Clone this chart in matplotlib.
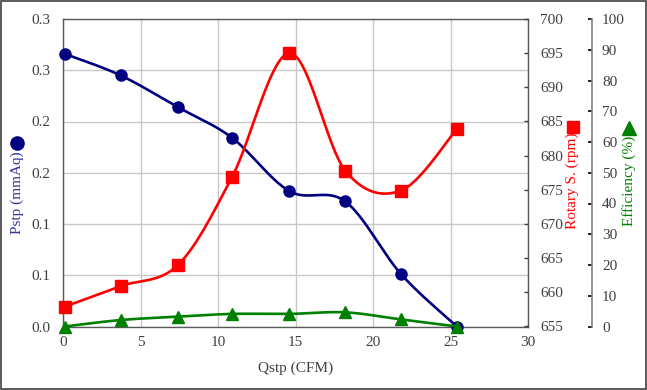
import numpy as np
import matplotlib
matplotlib.use("Agg")
import matplotlib.pyplot as plt
from matplotlib.lines import Line2D
from matplotlib.patches import Rectangle

# data
qstp = [0.1, 3.7, 7.4, 10.9, 14.6, 18.2, 21.8, 25.4]
pstp = [0.266, 0.245, 0.214, 0.184, 0.132, 0.122, 0.051, 0.0]
rotary = [657.9, 660.9, 664.0, 676.9, 695.0, 677.8, 674.9, 683.9]
efficiency = [0.0, 2.1, 3.2, 4.1, 4.1, 4.6, 2.3, 0.0]

x_ticks = [0, 5, 10, 15, 20, 25, 30]
p_ticks = [0.0, 0.05, 0.10, 0.15, 0.20, 0.25, 0.30]
p_tick_labels = ["0.0", "0.1", "0.1", "0.2", "0.2", "0.3", "0.3"]
r_ticks = [655, 660, 665, 670, 675, 680, 685, 690, 695, 700]
e_ticks = [0, 10, 20, 30, 40, 50, 60, 70, 80, 90, 100]

NAVY = "#000080"
RED = "#ff0000"
GREEN = "#008000"
TXT = "#404040"

plt.rcParams["font.family"] = ["Liberation Serif", "DejaVu Sans"]
plt.rcParams["font.size"] = 11

W, H = 647, 390
AX_W, AX_H = 465.0, 307.5


def smooth(x, y, xlim, ylim, n=40):
    # excel-like smoothed line: cubic bezier through points, done in pixel space
    px = (np.asarray(x, float) - xlim[0]) / (xlim[1] - xlim[0]) * AX_W
    py = (np.asarray(y, float) - ylim[0]) / (ylim[1] - ylim[0]) * AX_H
    P = np.column_stack([px, py])
    m = len(P)
    out = [P[:1]]
    t = np.linspace(0, 1, n)[1:, None]
    for i in range(m - 1):
        p0 = P[max(i - 1, 0)]
        p1, p2 = P[i], P[i + 1]
        p3 = P[min(i + 2, m - 1)]
        c1 = p1 + (p2 - p0) / 6.0
        c2 = p2 - (p3 - p1) / 6.0
        seg = ((1 - t) ** 3) * p1 + 3 * ((1 - t) ** 2) * t * c1 + 3 * (1 - t) * t ** 2 * c2 + t ** 3 * p2
        out.append(seg)
    S = np.vstack(out)
    sx = S[:, 0] / AX_W * (xlim[1] - xlim[0]) + xlim[0]
    sy = S[:, 1] / AX_H * (ylim[1] - ylim[0]) + ylim[0]
    return sx, sy


fig = plt.figure(figsize=(W / 100, H / 100), dpi=100)
ax = fig.add_axes([63.2 / W, 63.5 / H, AX_W / W, AX_H / H])
ax2 = ax.twinx()
ax3 = ax.twinx()

xlim = (0, 30)
plim = (0, 0.30)
rlim = (655, 700)
elim = (0, 100)

# Pstp
sx, sy = smooth(qstp, pstp, xlim, plim)
ax.plot(sx, sy, color=NAVY, lw=1.9, solid_capstyle="round")
ax.plot(qstp, pstp, "o", color=NAVY, ms=8, clip_on=False, zorder=5)
ax.set_xlim(*xlim)
ax.set_ylim(*plim)
ax.set_xticks(x_ticks)
ax.set_yticks(p_ticks)
ax.set_yticklabels(p_tick_labels)
ax.grid(True, color="#c8c8c8", lw=1.0)
ax.set_axisbelow(True)
ax.tick_params(axis="both", length=0, colors=TXT, labelsize=11)
ax.tick_params(axis="y", pad=9.5)
ax.tick_params(axis="x", pad=6.5)
for s in ax.spines.values():
    s.set_color("#595959")
    s.set_linewidth(1.0)

# Rotary speed
sx, sy = smooth(qstp, rotary, xlim, rlim)
ax2.plot(sx, sy, color=RED, lw=1.9)
ax2.plot(qstp, rotary, "s", color=RED, ms=8.5, clip_on=False, zorder=5)
ax2.set_ylim(*rlim)
ax2.set_yticks(r_ticks)
ax2.tick_params(axis="y", direction="in", length=3, width=1, colors=TXT, pad=8.5, labelsize=11)
for s in ax2.spines.values():
    s.set_visible(False)

# Efficiency
sx, sy = smooth(qstp, efficiency, xlim, elim)
ax3.plot(sx, sy, color=GREEN, lw=1.9)
ax3.plot(qstp, efficiency, "^", color=GREEN, ms=8.5, clip_on=False, zorder=5)
ax3.set_ylim(*elim)
ax3.set_yticks(e_ticks)
ax3.spines["right"].set_position(("axes", 1 + 64.0 / AX_W))
for k in ["left", "top", "bottom"]:
    ax3.spines[k].set_visible(False)
ax3.spines["right"].set_color("#808080")
ax3.spines["right"].set_linewidth(1.2)
ax3.tick_params(axis="y", direction="in", length=3, width=1.2, colors=TXT, pad=7, labelsize=11)
ax3.tick_params(axis="y", color="#000000")

# axis titles with their marker keys
fig.text(296 / W, 1 - 368 / H, "Qstp (CFM)", color=TXT, ha="center", va="center")
fig.text(17 / W, 1 - 193 / H, "Pstp (mmAq)", color="#333399", rotation=90, ha="center", va="center")
fig.text(572.5 / W, 1 - 181 / H, "Rotary S. (rpm)", color=RED, rotation=90, ha="center", va="center")
fig.text(629 / W, 1 - 181 / H, "Efficiency (%)", color=GREEN, rotation=90, ha="center", va="center")
fig.add_artist(Line2D([17 / W], [1 - 143 / H], marker="o", color=NAVY, ms=9.5, transform=fig.transFigure))
fig.add_artist(Line2D([573 / W], [1 - 127 / H], marker="s", color=RED, ms=9, transform=fig.transFigure))
fig.add_artist(Line2D([629 / W], [1 - 128 / H], marker="^", color=GREEN, ms=10, transform=fig.transFigure))

# outer frame
fig.add_artist(Rectangle((0.0008, 0.0013), 0.9984, 0.9974, transform=fig.transFigure,
                         fill=False, edgecolor="#404040", lw=1.2))

fig.savefig("out.png", dpi=100)
